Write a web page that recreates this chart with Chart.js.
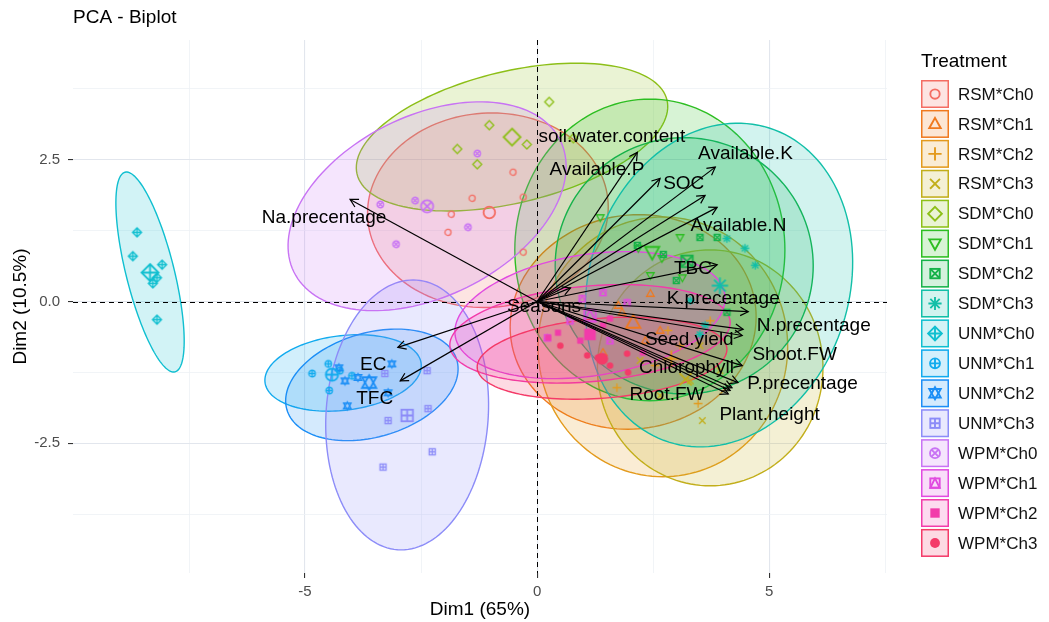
<!DOCTYPE html>
<html>
<head>
<meta charset="utf-8">
<title>PCA - Biplot</title>
<script src="https://cdn.jsdelivr.net/npm/chart.js@4.4.1/dist/chart.umd.min.js"></script>
<style>
  html, body { margin: 0; padding: 0; background: #fff; }
</style>
</head>
<body>
<canvas id="biplot" width="1049" height="622"></canvas>
<script>
// treatment groups
var groups = ['RSM*Ch0', 'RSM*Ch1', 'RSM*Ch2', 'RSM*Ch3', 'SDM*Ch0', 'SDM*Ch1', 'SDM*Ch2', 'SDM*Ch3',
              'UNM*Ch0', 'UNM*Ch1', 'UNM*Ch2', 'UNM*Ch3', 'WPM*Ch0', 'WPM*Ch1', 'WPM*Ch2', 'WPM*Ch3'];
var groupColors = ['#F46D63', '#F0791E', '#E39A1C', '#C2AE1A', '#8DBF18', '#2DBE22', '#16B24A', '#12BFA8',
                   '#10BFD0', '#12ABEE', '#1B8EF6', '#8C8CF8', '#C873F4', '#E14BE0', '#F23BAA', '#F43A68'];
var groupShapes = ['circle', 'triangle', 'plus', 'cross', 'diamond', 'triangleDown', 'squareCross', 'asterisk',
                   'diamondPlus', 'circlePlus', 'star6', 'squarePlus', 'circleCross', 'squareTriangle', 'squareFilled', 'circleFilled'];

// individuals, Dim1 / Dim2 coordinates per group
var indX = [
  [-0.52, -1.40, -1.85, -1.92, -0.30, -0.30],
  [2.44, 1.42, 1.83, 2.33, 2.65, 1.75],
  [3.73, 3.47, 1.72, 3.08, 2.54, 2.82],
  [2.22, 3.51, 3.30, 3.94, 2.65, 3.56],
  [-1.03, -1.72, -1.29, -0.22, 0.26, 0.78],
  [1.36, 3.08, 2.18, 2.69, 2.44, 3.13],
  [3.51, 3.88, 2.72, 2.16, 4.09, 3.00],
  [4.09, 4.48, 4.70, 3.30, 3.62, 3.51],
  [-8.62, -8.71, -8.08, -8.19, -8.28, -8.19],
  [-4.85, -4.50, -4.48, -4.25, -3.99],
  [-4.27, -3.13, -3.21, -4.09, -4.14, -3.86],
  [-3.28, -2.37, -2.35, -3.21, -2.26, -3.32],
  [-1.29, -2.63, -3.38, -1.49, -3.04],
  [1.42, 0.97, 0.22, 1.94, 0.71, 1.57],
  [0.45, 0.24, 1.42, 2.28, 1.57, 0.93],
  [1.94, 1.31, 1.96, 1.08, 0.50, 1.57]
];
var indY = [
  [2.28, 1.82, 1.54, 1.22, 1.84, 0.87],
  [0.14, -0.90, -0.19, -0.69, -0.51, -0.07],
  [-0.34, -1.80, -1.52, -0.78, -1.13, -0.51],
  [-1.04, -0.78, -1.40, -1.22, -1.66, -2.10],
  [3.11, 2.69, 2.42, 2.77, 3.52, 2.88],
  [1.48, 1.13, 0.94, 0.76, 0.46, 0.42],
  [1.13, 1.13, 0.83, 0.99, -0.19, 0.37],
  [1.11, 0.94, 0.64, 0.02, -0.42, -0.58],
  [1.22, 0.80, 0.65, 0.42, 0.32, -0.32],
  [-1.27, -1.10, -1.57, -1.22, -1.31],
  [-1.17, -1.10, -1.61, -1.84, -1.40, -1.34],
  [-1.27, -1.22, -1.89, -2.10, -2.65, -2.92],
  [2.61, 1.78, 1.71, 1.31, 1.01],
  [0.16, 0.05, -0.64, -0.02, -0.34, -0.69],
  [-0.55, -0.64, -0.42, -0.90, -0.30, -0.69],
  [-0.92, -0.99, -1.25, -0.95, -0.78, -1.13]
];

// group centroids (drawn larger)
var meanX = [-1.03, 2.07, 2.89, 3.20, -0.54, 2.48, 3.23, 3.94, -8.34, -4.42, -3.62, -2.80, -2.37, 1.14, 1.14, 1.40];
var meanY = [1.57, -0.37, -1.01, -1.37, 2.90, 0.87, 0.71, 0.28, 0.51, -1.29, -1.43, -2.01, 1.68, -0.25, -0.58, -1.01];

// concentration ellipses: centre plus two half-axis vectors (Dim units)
var ellCx = [-1.06, 2.07, 2.71, 3.73, -0.54, 2.43, 3.17, 3.92, -8.34, -4.18, -3.56, -2.80, -2.37, 1.14, 1.14, 1.40];
var ellCy = [1.61, -0.36, -0.80, -1.17, 2.90, 0.91, 0.63, 0.29, 0.52, -1.26, -1.47, -2.00, 1.68, -0.24, -0.57, -1.00];
var ellAx = [2.59, 2.65, 2.69, 2.43, 3.34, 2.91, 2.78, 1.08, -0.54, 1.68, 1.83, 0.13, 2.87, 2.91, 3.02, 2.69];
var ellAy = [0.14, 0.09, 0.00, 0.00, 0.65, 0.00, 0.00, 2.77, 1.76, 0.18, 0.44, 2.38, 1.16, 0.26, 0.18, 0.14];
var ellBx = [-0.13, 0.00, 0.00, 0.00, -0.32, 0.00, 0.00, 2.67, 0.50, -0.13, -0.32, 1.75, 0.86, 0.09, 0.06, 0.06];
var ellBy = [1.71, -1.89, -2.29, -2.08, 1.13, -2.66, -2.26, -0.69, 0.11, 0.65, 0.88, 0.00, -1.43, 1.09, 0.85, 0.71];

// variables: arrow tips and label positions
var varNames = ['Na.precentage', 'EC', 'TFC', 'soil.water.content', 'Available.P', 'Available.K', 'SOC', 'Available.N',
                'TBC', 'K.precentage', 'N.precentage', 'Seed.yield', 'Shoot.FW', 'Chlorophyll', 'P.precentage',
                'Root.FW', 'Plant.height', 'Seasons'];
var loadX = [-4.03, -3.00, -2.95, 2.16, 2.65, 3.84, 3.62, 3.88, 3.88, 4.55, 4.44, 4.42, 4.42, 4.20, 4.33, 4.12, 4.16, 0.72];
var loadY = [1.80, -0.81, -1.40, 2.63, 2.17, 2.37, 1.87, 1.66, 0.65, -0.18, -0.49, -0.60, -1.13, -1.52, -1.43, -1.63, -1.57, 0.24];
var labX = [-4.59, -3.53, -3.50, 1.61, 1.29, 4.49, 3.16, 4.34, 3.36, 4.01, 5.96, 3.28, 5.55, 3.22, 5.72, 2.80, 5.01, 0.15];
var labY = [1.48, -1.11, -1.71, 2.90, 2.33, 2.60, 2.07, 1.33, 0.58, 0.05, -0.42, -0.67, -0.94, -1.17, -1.45, -1.64, -2.00, -0.09];

// axis grid and labelled ticks
var xGridVals = [-7.5, -5, -2.5, 0, 2.5, 5, 7.5];
var xLabelled = [-5, 0, 5];
var yGridVals = [-3.75, -2.5, -1.25, 0, 1.25, 2.5, 3.75];
var yLabelled = [-2.5, 0, 2.5];

var FONT = '"Liberation Sans", Arial, Helvetica, sans-serif';
Chart.defaults.font.family = FONT;

function rgba(hex, a) {
  var n = parseInt(hex.slice(1), 16);
  return 'rgba(' + (n >> 16) + ',' + ((n >> 8) & 255) + ',' + (n & 255) + ',' + a + ')';
}

// ggplot-like point shapes
function drawShape(g, shape, x, y, r, color, lw) {
  g.save();
  g.strokeStyle = color;
  g.fillStyle = color;
  g.lineWidth = lw;
  function circle(rr) { g.beginPath(); g.arc(x, y, rr, 0, Math.PI * 2); g.stroke(); }
  function square(rr) { g.strokeRect(x - rr, y - rr, rr * 2, rr * 2); }
  function plus(rr) { g.beginPath(); g.moveTo(x - rr, y); g.lineTo(x + rr, y); g.moveTo(x, y - rr); g.lineTo(x, y + rr); g.stroke(); }
  function cross(rr) { g.beginPath(); g.moveTo(x - rr, y - rr); g.lineTo(x + rr, y + rr); g.moveTo(x + rr, y - rr); g.lineTo(x - rr, y + rr); g.stroke(); }
  function tri(rr, down) {
    var s = down ? -1 : 1;
    g.beginPath();
    g.moveTo(x, y - s * rr);
    g.lineTo(x + rr * 0.95, y + s * rr * 0.7);
    g.lineTo(x - rr * 0.95, y + s * rr * 0.7);
    g.closePath();
    g.stroke();
  }
  function diamond(rr) { g.beginPath(); g.moveTo(x, y - rr); g.lineTo(x + rr, y); g.lineTo(x, y + rr); g.lineTo(x - rr, y); g.closePath(); g.stroke(); }
  switch (shape) {
    case 'circle': circle(r * 0.85); break;
    case 'triangle': tri(r * 1.1, false); break;
    case 'plus': plus(r * 1.2); break;
    case 'cross': cross(r * 0.9); break;
    case 'diamond': diamond(r * 1.25); break;
    case 'triangleDown': tri(r * 1.1, true); break;
    case 'squareCross': square(r * 0.85); cross(r * 0.85); break;
    case 'asterisk': plus(r * 1.2); cross(r * 0.85); break;
    case 'diamondPlus': diamond(r * 1.25); plus(r * 1.25); break;
    case 'circlePlus': circle(r * 0.9); plus(r * 0.9); break;
    case 'star6': tri(r * 1.1, false); tri(r * 1.1, true); break;
    case 'squarePlus': square(r * 0.85); plus(r * 0.85); break;
    case 'circleCross': circle(r * 0.9); cross(r * 0.64); break;
    case 'squareTriangle':
      square(r * 0.85);
      g.beginPath(); g.moveTo(x, y - r * 0.85); g.lineTo(x + r * 0.85, y + r * 0.85); g.lineTo(x - r * 0.85, y + r * 0.85); g.closePath(); g.stroke();
      break;
    case 'squareFilled': g.fillRect(x - r * 0.85, y - r * 0.85, r * 1.7, r * 1.7); break;
    case 'circleFilled': g.beginPath(); g.arc(x, y, r * 0.9, 0, Math.PI * 2); g.fill(); break;
  }
  g.restore();
}

function shapeSprite(shape, color, r, lw) {
  var c = document.createElement('canvas');
  var s = Math.ceil(r * 2.8 + lw * 2);
  c.width = s;
  c.height = s;
  drawShape(c.getContext('2d'), shape, s / 2, s / 2, r, color, lw);
  return c;
}

// datasets: variable arrows first (on top), then group centroids and individuals
var datasets = [];
varNames.forEach(function (name, i) {
  datasets.push({
    type: 'line',
    label: name,
    data: [{ x: 0, y: 0 }, { x: loadX[i], y: loadY[i] }],
    borderColor: '#000',
    borderWidth: 1.2,
    pointRadius: 0,
    fill: false,
    order: 0
  });
});
groups.forEach(function (name, g) {
  datasets.push({
    type: 'scatter',
    label: name + ' mean',
    data: [{ x: meanX[g], y: meanY[g] }],
    pointStyle: shapeSprite(groupShapes[g], groupColors[g], 6.8, 1.8),
    pointRadius: 6,
    order: 40 - g
  });
  datasets.push({
    type: 'scatter',
    label: name,
    data: indX[g].map(function (v, k) { return { x: v, y: indY[g][k] }; }),
    pointStyle: shapeSprite(groupShapes[g], groupColors[g], 3.6, 1.3),
    pointRadius: 4,
    order: 80 - g
  });
});

var biplotDecor = {
  id: 'biplotDecor',
  beforeDatasetsDraw: function (chart) {
    var xs = chart.scales.x, ys = chart.scales.y, ctx = chart.ctx, a = chart.chartArea;
    ctx.save();
    ctx.beginPath();
    ctx.rect(a.left, a.top, a.right - a.left, a.bottom - a.top);
    ctx.clip();
    for (var g = 0; g < groups.length; g++) {
      ctx.beginPath();
      for (var k = 0; k <= 144; k++) {
        var t = k / 144 * Math.PI * 2;
        var px = xs.getPixelForValue(ellCx[g] + ellAx[g] * Math.cos(t) + ellBx[g] * Math.sin(t));
        var py = ys.getPixelForValue(ellCy[g] + ellAy[g] * Math.cos(t) + ellBy[g] * Math.sin(t));
        if (k === 0) ctx.moveTo(px, py); else ctx.lineTo(px, py);
      }
      ctx.closePath();
      ctx.fillStyle = rgba(groupColors[g], 0.19);
      ctx.fill();
      ctx.strokeStyle = groupColors[g];
      ctx.lineWidth = 1.4;
      ctx.stroke();
    }
    // dashed reference lines through the origin
    var x0 = Math.round(xs.getPixelForValue(0)) + 0.5, y0 = Math.round(ys.getPixelForValue(0)) + 0.5;
    ctx.setLineDash([5, 4]);
    ctx.strokeStyle = '#000';
    ctx.lineWidth = 1;
    ctx.beginPath();
    ctx.moveTo(a.left, y0); ctx.lineTo(a.right, y0);
    ctx.moveTo(x0, a.top); ctx.lineTo(x0, a.bottom);
    ctx.stroke();
    ctx.restore();
  },
  afterDatasetsDraw: function (chart) {
    var xs = chart.scales.x, ys = chart.scales.y, ctx = chart.ctx;
    ctx.save();
    var ox = xs.getPixelForValue(0), oy = ys.getPixelForValue(0);
    ctx.strokeStyle = '#000';
    ctx.lineWidth = 1.2;
    for (var i = 0; i < varNames.length; i++) {
      var tx = xs.getPixelForValue(loadX[i]), ty = ys.getPixelForValue(loadY[i]);
      var ang = Math.atan2(ty - oy, tx - ox);
      ctx.beginPath();
      ctx.moveTo(tx - 9 * Math.cos(ang - 0.5), ty - 9 * Math.sin(ang - 0.5));
      ctx.lineTo(tx, ty);
      ctx.lineTo(tx - 9 * Math.cos(ang + 0.5), ty - 9 * Math.sin(ang + 0.5));
      ctx.stroke();
    }
    ctx.fillStyle = '#000';
    ctx.font = '19px ' + FONT;
    ctx.textAlign = 'center';
    ctx.textBaseline = 'middle';
    for (var j = 0; j < varNames.length; j++) {
      ctx.fillText(varNames[j], xs.getPixelForValue(labX[j]), ys.getPixelForValue(labY[j]));
    }
    ctx.restore();
  },
  afterDraw: function (chart) {
    var ctx = chart.ctx, a = chart.chartArea;
    ctx.save();
    ctx.fillStyle = '#000';
    ctx.textBaseline = 'middle';
    ctx.textAlign = 'left';
    ctx.font = '19px ' + FONT;
    ctx.fillText('PCA - Biplot', a.left, 18);

    // legend
    var lx = a.right + 34, ly = 80, step = 29.93, box = 28;
    ctx.fillText('Treatment', lx, 62);
    ctx.font = '17px ' + FONT;
    for (var g = 0; g < groups.length; g++) {
      var by = ly + g * step;
      ctx.fillStyle = rgba(groupColors[g], 0.19);
      ctx.fillRect(lx, by, box, box);
      ctx.strokeStyle = groupColors[g];
      ctx.lineWidth = 1.5;
      ctx.strokeRect(lx + 0.75, by + 0.75, box - 1.5, box - 1.5);
      drawShape(ctx, groupShapes[g], lx + box / 2, by + box / 2, 5.5, groupColors[g], 1.9);
      ctx.fillStyle = '#111';
      ctx.fillText(groups[g], lx + 37, by + box / 2 + 1);
    }
    ctx.restore();
  }
};

new Chart(document.getElementById('biplot'), {
  type: 'scatter',
  data: { datasets: datasets },
  options: {
    responsive: false,
    animation: false,
    devicePixelRatio: 1,
    layout: { padding: { top: 40, right: 162, bottom: 0, left: 0 } },
    plugins: { legend: { display: false }, tooltip: { enabled: false } },
    scales: {
      x: {
        type: 'linear',
        min: -10.0,
        max: 7.54,
        afterBuildTicks: function (s) { s.ticks = xGridVals.map(function (v) { return { value: v }; }); },
        afterFit: function (s) { s.height = 49; },
        ticks: {
          color: '#4D4D4D',
          font: { size: 15 },
          padding: 5,
          maxRotation: 0,
          callback: function (v) { return xLabelled.indexOf(v) >= 0 ? String(v) : ''; }
        },
        grid: {
          color: function (c) { return c.tick && xLabelled.indexOf(c.tick.value) >= 0 ? '#E2E6ED' : '#EEF1F5'; },
          lineWidth: function (c) { return c.tick && xLabelled.indexOf(c.tick.value) >= 0 ? 1.1 : 0.8; },
          tickColor: function (c) { return c.tick && xLabelled.indexOf(c.tick.value) >= 0 ? '#333' : 'rgba(0,0,0,0)'; },
          tickLength: 5
        },
        border: { display: false },
        title: { display: true, text: 'Dim1 (65%)', color: '#000', font: { size: 19 }, padding: { top: 0, bottom: 1 } }
      },
      y: {
        type: 'linear',
        min: -4.788,
        max: 4.612,
        afterBuildTicks: function (s) { s.ticks = yGridVals.map(function (v) { return { value: v }; }); },
        afterFit: function (s) { s.width = 73; },
        ticks: {
          color: '#4D4D4D',
          font: { size: 15 },
          padding: 8,
          callback: function (v) { return yLabelled.indexOf(v) >= 0 ? v.toFixed(1) : ''; }
        },
        grid: {
          color: function (c) { return c.tick && yLabelled.indexOf(c.tick.value) >= 0 ? '#E2E6ED' : '#EEF1F5'; },
          lineWidth: function (c) { return c.tick && yLabelled.indexOf(c.tick.value) >= 0 ? 1.1 : 0.8; },
          tickColor: function (c) { return c.tick && yLabelled.indexOf(c.tick.value) >= 0 ? '#333' : 'rgba(0,0,0,0)'; },
          tickLength: 5
        },
        border: { display: false },
        title: { display: true, text: 'Dim2 (10.5%)', color: '#000', font: { size: 19 }, padding: { top: 9, bottom: 0 } }
      }
    }
  },
  plugins: [biplotDecor]
});
</script>
</body>
</html>
